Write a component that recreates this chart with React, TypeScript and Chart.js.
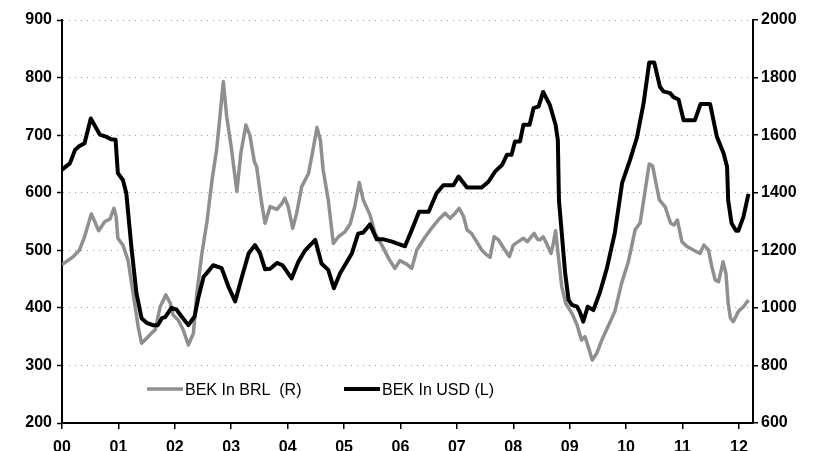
import { useEffect, useRef } from "react";
import { Chart, registerables } from "chart.js";

Chart.register(...registerables);

// Time in years since Jan 2000 (00 = 0.0)
const usdTime = [
  0.0, 0.14, 0.23, 0.31, 0.4, 0.51, 0.67, 0.79, 0.87, 0.95, 0.99, 1.08, 1.14, 1.23, 1.32, 1.41, 1.5, 1.61,
  1.7, 1.77, 1.83, 1.94, 2.03, 2.12, 2.24, 2.35, 2.42, 2.51, 2.59, 2.68, 2.83, 2.95, 3.07, 3.19, 3.31, 3.42,
  3.51, 3.6, 3.69, 3.81, 3.91, 4.07, 4.19, 4.31, 4.49, 4.6, 4.72, 4.82, 4.93, 5.02, 5.14, 5.25, 5.34, 5.46,
  5.58, 5.7, 5.85, 5.96, 6.08, 6.2, 6.33, 6.5, 6.64, 6.76, 6.94, 7.03, 7.18, 7.44, 7.56, 7.68, 7.8, 7.89,
  7.97, 8.03, 8.12, 8.18, 8.29, 8.36, 8.45, 8.53, 8.65, 8.75, 8.79, 8.81, 8.85, 8.92, 8.98, 9.04, 9.13, 9.18,
  9.24, 9.32, 9.42, 9.54, 9.66, 9.8, 9.93, 10.07, 10.19, 10.31, 10.41, 10.5, 10.6, 10.66, 10.78, 10.84,
  10.93, 11.02, 11.22, 11.32, 11.49, 11.61, 11.73, 11.79, 11.81, 11.87, 11.95, 11.99, 12.08, 12.17,
];
// BEK in USD (left axis)
const usdValues = [
  640, 651, 674, 681, 686, 729, 701, 697, 693, 692, 634, 622, 599, 506, 425, 382, 374, 370,
  370, 382, 384, 400, 397, 385, 370, 385, 419, 454, 463, 474, 469, 437, 411, 454, 495, 509,
  495, 467, 468, 478, 474, 451, 480, 500, 518, 477, 466, 434, 460, 475, 495, 529, 531, 545,
  519, 519, 515, 511, 507, 535, 567, 567, 599, 613, 613, 628, 609, 609, 619, 637, 648, 666,
  666, 689, 689, 718, 718, 747, 750, 775, 752, 718, 692, 587, 541, 460, 414, 405, 402, 393,
  376, 402, 396, 428, 469, 530, 617, 657, 695, 755, 826, 826, 784, 776, 773, 766,
  762, 726, 726, 754, 754, 697, 668, 645, 587, 547, 534, 534, 558, 598,
];

const brlTime = [
  0.0, 0.2, 0.31, 0.4, 0.52, 0.58, 0.65, 0.76, 0.85, 0.92, 0.96, 0.99, 1.08, 1.17, 1.26, 1.35, 1.41, 1.5,
  1.61, 1.65, 1.74, 1.84, 1.92, 1.97, 2.06, 2.15, 2.24, 2.33, 2.39, 2.48, 2.57, 2.66, 2.74, 2.8, 2.86, 2.92,
  3.0, 3.1, 3.17, 3.26, 3.33, 3.41, 3.45, 3.54, 3.6, 3.69, 3.81, 3.9, 3.95, 4.01, 4.09, 4.16, 4.25, 4.37,
  4.46, 4.52, 4.58, 4.63, 4.72, 4.81, 4.9, 5.02, 5.11, 5.19, 5.27, 5.34, 5.46, 5.55, 5.67, 5.79, 5.9, 5.99,
  6.11, 6.2, 6.29, 6.44, 6.55, 6.67, 6.79, 6.88, 6.97, 7.04, 7.12, 7.18, 7.26, 7.35, 7.44, 7.53, 7.59, 7.66,
  7.74, 7.83, 7.93, 8.0, 8.09, 8.18, 8.25, 8.37, 8.43, 8.47, 8.53, 8.59, 8.67, 8.71, 8.75, 8.8, 8.86, 8.93,
  9.04, 9.13, 9.21, 9.27, 9.33, 9.4, 9.48, 9.57, 9.68, 9.8, 9.92, 10.04, 10.16, 10.25, 10.34, 10.41, 10.47,
  10.53, 10.59, 10.69, 10.79, 10.85, 10.91, 10.99, 11.08, 11.19, 11.31, 11.38, 11.46, 11.52, 11.58, 11.64,
  11.72, 11.77, 11.81, 11.85, 11.9, 11.99, 12.08, 12.17,
];
// BEK in BRL (right axis)
const brlValues = [
  1150, 1178, 1201, 1247, 1326, 1300, 1268, 1300, 1308, 1346, 1317, 1242, 1218, 1166, 1051, 935, 877, 894,
  917, 923, 1004, 1045, 1016, 975, 958, 923, 871, 912, 1051, 1189, 1300, 1444, 1548, 1664, 1786, 1664,
  1560, 1404, 1537, 1635, 1600, 1508, 1491, 1363, 1294, 1352, 1342, 1363, 1381, 1352, 1276, 1329, 1421, 1467,
  1560, 1627, 1583, 1479, 1375, 1224, 1247, 1265, 1292, 1352, 1435, 1375, 1323, 1259, 1218, 1172, 1137, 1164,
  1152, 1137, 1201, 1247, 1276, 1305, 1329, 1311, 1329, 1346, 1317, 1271, 1259, 1230, 1201, 1184, 1176, 1247,
  1236, 1207, 1178, 1218, 1230, 1242, 1230, 1259, 1238, 1236, 1247, 1224, 1189, 1224, 1268, 1178, 1074, 1016,
  981, 941, 888, 900, 865, 819, 842, 888, 935, 987, 1085, 1160, 1271, 1296, 1410, 1500, 1493,
  1433, 1375, 1352, 1294, 1288, 1305, 1230, 1213, 1201, 1189, 1218, 1201, 1143, 1097, 1091,
  1160, 1120, 1016, 964, 952, 987, 1004, 1027,
];

const yearLabels = ["00", "01", "02", "03", "04", "05", "06", "07", "08", "09", "10", "11", "12"];
const legendBRL = "BEK In BRL  (R)";
const legendUSD = "BEK In USD (L)";

const FONT = '"Liberation Sans", Arial, sans-serif';

export default function App() {
  const ref = useRef<HTMLCanvasElement>(null);

  useEffect(() => {
    document.body.style.margin = "0";
    const legendPlugin = {
      id: "inlineLegend",
      afterDatasetsDraw(chart: any) {
        const { ctx, chartArea } = chart;
        const y = chartArea.bottom - 34;
        ctx.save();
        ctx.lineCap = "butt";
        ctx.strokeStyle = "#8f8f8f";
        ctx.lineWidth = 3.5;
        ctx.beginPath();
        ctx.moveTo(chartArea.left + 85, y);
        ctx.lineTo(chartArea.left + 121, y);
        ctx.stroke();
        ctx.strokeStyle = "#000";
        ctx.lineWidth = 4;
        ctx.beginPath();
        ctx.moveTo(chartArea.left + 282, y);
        ctx.lineTo(chartArea.left + 318, y);
        ctx.stroke();
        ctx.fillStyle = "#000";
        ctx.font = `16px ${FONT}`;
        ctx.textBaseline = "middle";
        ctx.textAlign = "left";
        ctx.fillText(legendBRL, chartArea.left + 123, y + 2);
        ctx.fillText(legendUSD, chartArea.left + 320, y + 2);
        ctx.restore();
      },
    };

    const tickFont = { family: FONT, size: 16, weight: "bold" as const };

    const chart = new Chart(ref.current!, {
      type: "line",
      data: {
        datasets: [
          {
            label: legendUSD,
            data: usdTime.map((t, i) => ({ x: t, y: usdValues[i] })),
            yAxisID: "y",
            borderColor: "#000",
            borderWidth: 4,
            pointRadius: 0,
            tension: 0,
            borderJoinStyle: "round",
          },
          {
            label: legendBRL,
            data: brlTime.map((t, i) => ({ x: t, y: brlValues[i] })),
            yAxisID: "y1",
            borderColor: "#8f8f8f",
            borderWidth: 3.5,
            pointRadius: 0,
            tension: 0,
            borderJoinStyle: "round",
          },
        ],
      },
      options: {
        animation: false,
        responsive: false,
        maintainAspectRatio: false,
        layout: { padding: { top: 20, left: 0, right: 0, bottom: 0 } },
        plugins: { legend: { display: false }, tooltip: { enabled: false } },
        scales: {
          x: {
            type: "linear",
            min: 0,
            max: 12.25,
            ticks: {
              stepSize: 1,
              includeBounds: false,
              autoSkip: false,
              maxRotation: 0,
              color: "#000",
              font: tickFont,
              padding: 9,
              callback: (v: any) => yearLabels[Math.round(Number(v))] ?? "",
            },
            grid: { drawOnChartArea: false, tickLength: 6, color: "#000", lineWidth: 1.5 },
            border: { color: "#000", width: 2 },
            afterFit: (s: any) => {
              s.height = 28;
            },
          },
          y: {
            position: "left",
            min: 200,
            max: 900,
            ticks: { stepSize: 100, color: "#000", font: tickFont, padding: 5, callback: (v: any) => String(v) },
            grid: { color: "#9a9a9a", lineWidth: 1, tickLength: 5, tickColor: "#000", tickWidth: 1.5 },
            border: { color: "#000", width: 2, dash: [1, 5] },
            afterFit: (s: any) => {
              s.width = 62;
            },
          },
          y1: {
            position: "right",
            min: 600,
            max: 2000,
            ticks: { stepSize: 200, color: "#000", font: tickFont, padding: 3, callback: (v: any) => String(v) },
            grid: { drawOnChartArea: false, tickLength: 5, color: "#000", lineWidth: 1.5 },
            border: { color: "#000", width: 2 },
            afterFit: (s: any) => {
              s.width = 63;
            },
          },
        },
      },
      plugins: [legendPlugin],
    });
    return () => chart.destroy();
  }, []);

  return <canvas ref={ref} width={816} height={451} style={{ display: "block" }} />;
}
